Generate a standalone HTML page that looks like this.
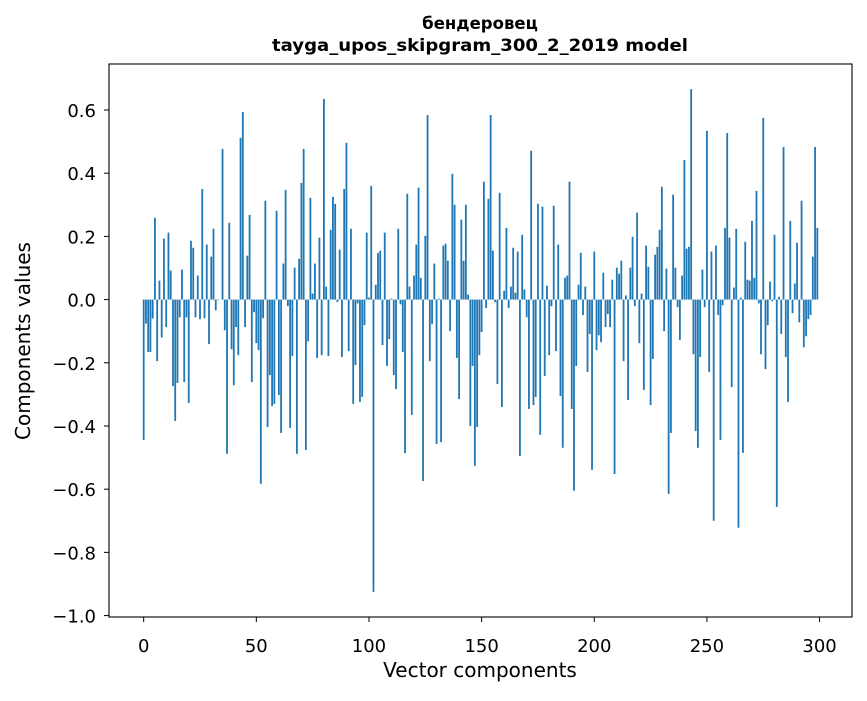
<!DOCTYPE html>
<html><head><meta charset="utf-8"><style>
body{margin:0;background:#fff;}
svg text{font-family:"DejaVu Sans","Liberation Sans",sans-serif;}
</style></head><body>
<svg id="chart" width="867" height="696" xmlns="http://www.w3.org/2000/svg">
<rect width="867" height="696" fill="#fff"/>
<g id="bars"></g>
<g id="axes"></g>
<text x="480" y="29" text-anchor="middle" font-size="16.5" font-weight="bold">бендеровец</text>
<text x="480" y="51" text-anchor="middle" font-size="16.5" font-weight="bold" textLength="416" lengthAdjust="spacingAndGlyphs">tayga_upos_skipgram_300_2_2019 model</text>
<text x="480" y="677" text-anchor="middle" font-size="20">Vector components</text>
<text x="30" y="341" text-anchor="middle" font-size="20" transform="rotate(-90 30 341)">Components values</text>
</svg>
<script>
const componentValues = [
-0.444,-0.076,-0.166,-0.166,-0.06,0.259,-0.195,0.06,-0.12,0.193,
-0.087,0.212,0.092,-0.274,-0.384,-0.264,-0.056,0.095,-0.261,-0.056,
-0.327,0.186,0.164,-0.056,0.076,-0.062,0.35,-0.059,0.174,-0.141,
0.136,0.224,-0.034,-0.002,0.0,0.477,-0.097,-0.488,0.243,-0.157,
-0.271,-0.087,-0.176,0.512,0.594,-0.087,0.139,0.268,-0.261,-0.04,
-0.138,-0.16,-0.583,-0.059,0.313,-0.403,-0.239,-0.337,-0.33,0.281,
-0.302,-0.422,0.114,0.347,-0.021,-0.406,-0.179,0.101,-0.488,0.129,
0.369,0.477,-0.476,-0.132,0.322,0.019,0.114,-0.185,0.196,-0.176,
0.635,0.041,-0.179,0.221,0.325,0.303,-0.008,0.158,-0.182,0.35,
0.496,-0.163,0.224,-0.33,-0.207,-0.012,-0.324,-0.308,-0.081,0.212,
0.006,0.36,-0.925,0.047,0.148,0.155,-0.144,0.212,-0.21,-0.125,
0.003,-0.239,-0.283,0.224,-0.015,-0.166,-0.486,0.335,0.041,-0.365,
0.076,0.174,0.354,0.069,-0.574,0.202,0.584,-0.195,-0.078,0.114,
-0.457,0.003,-0.451,0.171,0.177,0.123,-0.1,0.398,0.3,-0.185,
-0.315,0.253,0.123,0.3,0.016,-0.4,-0.21,-0.526,-0.403,-0.176,
-0.103,0.373,-0.027,0.319,0.584,0.155,-0.008,-0.267,0.338,-0.34,
0.028,0.227,-0.027,0.041,0.164,0.022,0.152,-0.495,0.205,0.032,
-0.056,-0.346,0.471,-0.334,-0.308,0.303,-0.428,0.294,-0.242,0.044,
-0.176,-0.021,0.297,-0.163,0.174,-0.305,-0.469,0.069,0.076,0.373,
-0.346,-0.605,-0.21,0.047,0.148,-0.049,0.041,-0.229,-0.109,-0.539,
0.152,-0.16,-0.113,-0.135,0.085,-0.087,-0.046,-0.087,0.063,-0.552,
0.101,0.082,0.123,-0.195,0.013,-0.318,0.101,0.199,-0.021,0.275,
-0.138,0.019,-0.286,0.171,0.104,-0.334,-0.188,0.142,0.167,0.221,
0.357,-0.1,0.098,-0.615,-0.422,0.332,0.101,-0.024,-0.128,0.076,
0.442,0.161,0.167,0.666,-0.173,-0.416,-0.469,-0.182,0.095,-0.024,
0.534,-0.229,0.152,-0.7,0.171,-0.049,-0.444,-0.018,0.227,0.527,
0.196,-0.277,0.038,0.224,-0.722,0.006,-0.485,0.183,0.063,0.06,
0.249,0.069,0.344,-0.012,-0.173,0.575,-0.22,-0.081,0.057,-0.005,
0.205,-0.656,0.009,-0.109,0.483,-0.182,-0.324,0.249,-0.043,0.051,
0.18,-0.072,0.313,-0.151,-0.116,-0.062,-0.049,0.136,0.483,0.227
];
const xTickValues = [0,50,100,150,200,250,300];
const yTickValues = [-1.0,-0.8,-0.6,-0.4,-0.2,0.0,0.2,0.4,0.6];
const yTickLabels = ["\u22121.0","\u22120.8","\u22120.6","\u22120.4","\u22120.2","0.0","0.2","0.4","0.6"];

const L=109,R=852,T=64,B=617;
const n=componentValues.length;
const vmin=Math.min(...componentValues,0), vmax=Math.max(...componentValues,0);
const xmin=-0.4-0.05*(n-0.2), xmax=(n-1)+0.4+0.05*(n-0.2);
const ymin=vmin-0.05*(vmax-vmin), ymax=vmax+0.05*(vmax-vmin);
const xs=v=>L+(v-xmin)/(xmax-xmin)*(R-L);
const ys=v=>B-(v-ymin)/(ymax-ymin)*(B-T);
const NS="http://www.w3.org/2000/svg";
const bars=document.getElementById('bars');
componentValues.forEach((v,i)=>{
  const r=document.createElementNS(NS,'rect');
  const x0=xs(i-0.4), x1=xs(i+0.4);
  const y0=ys(Math.max(v,0)), y1=ys(Math.min(v,0));
  r.setAttribute('x',x0);r.setAttribute('width',x1-x0);
  r.setAttribute('y',y0);r.setAttribute('height',Math.max(y1-y0,0.01));
  r.setAttribute('fill','#1f77b4');
  
  
  bars.appendChild(r);
});
const axes=document.getElementById('axes');
const frame=document.createElementNS(NS,'rect');
frame.setAttribute('x',L);frame.setAttribute('y',T);frame.setAttribute('width',R-L);frame.setAttribute('height',B-T);
frame.setAttribute('fill','none');frame.setAttribute('stroke','#000');frame.setAttribute('stroke-width','1.1');


axes.appendChild(frame);
xTickValues.forEach(v=>{
  const x=xs(v);
  const l=document.createElementNS(NS,'line');
  l.setAttribute('x1',x);l.setAttribute('x2',x);l.setAttribute('y1',B);l.setAttribute('y2',B+5);l.setAttribute('stroke','#000');
  
  
  axes.appendChild(l);
  const t=document.createElementNS(NS,'text');
  t.setAttribute('x',x);t.setAttribute('y',B+35);t.setAttribute('text-anchor','middle');t.setAttribute('font-size','18');
  t.textContent=v;
  
  
  axes.appendChild(t);
});
yTickValues.forEach((v,i)=>{
  const y=ys(v);
  const l=document.createElementNS(NS,'line');
  l.setAttribute('x1',L-5);l.setAttribute('x2',L);l.setAttribute('y1',y);l.setAttribute('y2',y);l.setAttribute('stroke','#000');
  
  
  axes.appendChild(l);
  const t=document.createElementNS(NS,'text');
  t.setAttribute('x',L-13);t.setAttribute('y',y+7);t.setAttribute('text-anchor','end');t.setAttribute('font-size','18');
  t.textContent=yTickLabels[i];
  
  
  axes.appendChild(t);
});
</script>
</body></html>
